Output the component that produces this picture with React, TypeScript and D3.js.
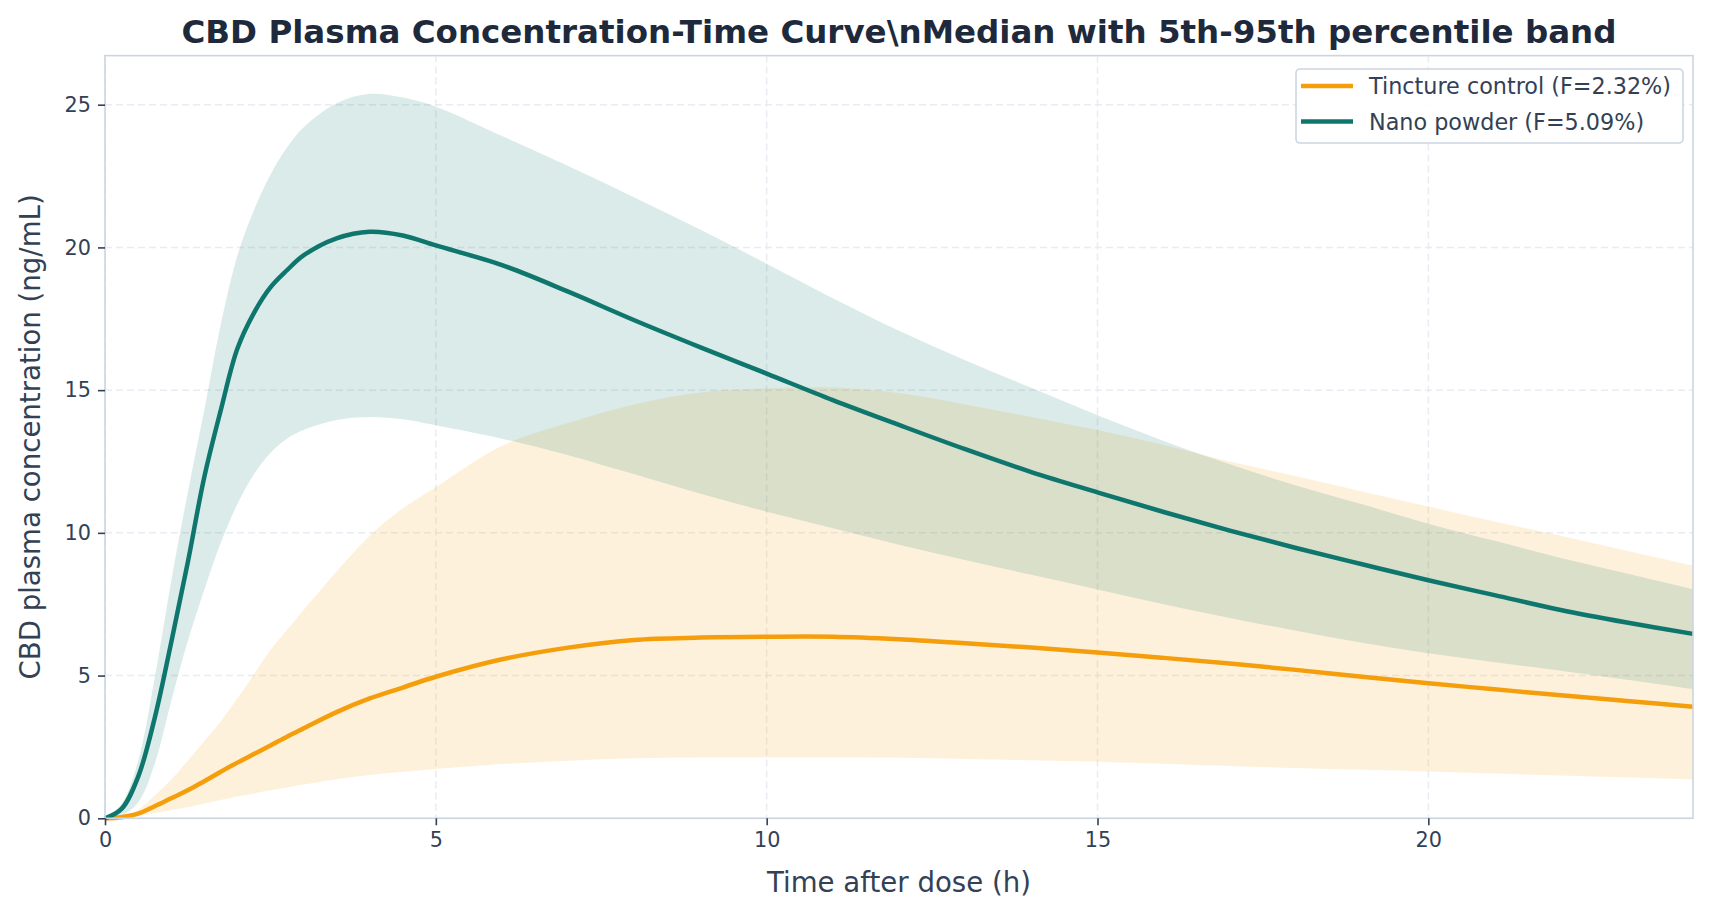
import React, { useEffect, useRef } from "react";
import * as d3 from "d3";

const times = [0, 0.25, 0.5, 0.75, 1, 1.25, 1.5, 1.75, 2, 2.25, 2.5, 2.75, 3, 3.5, 4, 4.5, 5, 6, 7, 8, 9, 10, 11, 12, 13, 14, 15, 16, 17, 18, 19, 20, 21, 22, 23, 24];

const tinctureMedian = [0, 0.04, 0.16, 0.42, 0.7, 0.98, 1.3, 1.63, 1.95, 2.25, 2.55, 2.86, 3.15, 3.72, 4.2, 4.58, 4.96, 5.57, 5.98, 6.25, 6.33, 6.36, 6.36, 6.27, 6.13, 5.98, 5.81, 5.62, 5.42, 5.2, 4.96, 4.73, 4.52, 4.31, 4.11, 3.91];
const tinctureLow = [0, 0.02, 0.09, 0.18, 0.28, 0.39, 0.52, 0.64, 0.76, 0.87, 0.98, 1.08, 1.18, 1.37, 1.52, 1.63, 1.73, 1.9, 2.02, 2.1, 2.13, 2.14, 2.14, 2.12, 2.08, 2.03, 1.98, 1.91, 1.83, 1.76, 1.7, 1.64, 1.57, 1.5, 1.43, 1.36];
const tinctureHigh = [0, 0.06, 0.3, 0.8, 1.35, 2.02, 2.7, 3.4, 4.2, 5.05, 5.9, 6.6, 7.3, 8.65, 9.9, 10.85, 11.6, 13.05, 13.85, 14.5, 14.92, 15.06, 15.09, 14.9, 14.5, 14.06, 13.6, 13.08, 12.5, 11.98, 11.45, 10.92, 10.4, 9.9, 9.37, 8.85];

const nanoMedian = [0, 0.33, 1.45, 3.5, 6.15, 8.95, 11.95, 14.3, 16.45, 17.7, 18.6, 19.2, 19.72, 20.32, 20.55, 20.42, 20.07, 19.38, 18.45, 17.45, 16.5, 15.58, 14.65, 13.78, 12.93, 12.13, 11.42, 10.73, 10.08, 9.47, 8.9, 8.34, 7.82, 7.3, 6.86, 6.46];
const nanoLow = [0, 0.1, 0.55, 1.9, 4.1, 6.2, 8.0, 9.65, 11.0, 12.05, 12.8, 13.3, 13.6, 13.95, 14.06, 13.98, 13.77, 13.3, 12.72, 12.05, 11.37, 10.74, 10.16, 9.58, 9.05, 8.53, 8.02, 7.5, 7.02, 6.57, 6.15, 5.78, 5.47, 5.17, 4.85, 4.52];
const nanoHigh = [0, 0.5, 2.0, 4.9, 8.3, 11.4, 14.3, 17.3, 19.7, 21.3, 22.55, 23.5, 24.2, 25.05, 25.38, 25.25, 24.93, 23.9, 22.85, 21.75, 20.62, 19.43, 18.22, 17.08, 16.05, 15.08, 14.12, 13.22, 12.4, 11.66, 11.0, 10.32, 9.72, 9.12, 8.58, 8.03];

const seriesNames = ["Tincture control (F=2.32%)", "Nano powder (F=5.09%)"];
const seriesColors = ["#f59e0b", "#0f766e"];
const xTicks = [0, 5, 10, 15, 20];
const yTicks = [0, 5, 10, 15, 20, 25];

const App = () => {
  const svgRef = useRef(null);

  useEffect(() => {
    const svg = d3.select(svgRef.current);
    svg.selectAll("*").remove();

    const width = 1710;
    const height = 916;
    const margin = { top: 55.6, right: 17, bottom: 97.7, left: 105 };
    const font = "DejaVu Sans, sans-serif";

    const x = d3.scaleLinear().domain([0, 24]).range([margin.left, width - margin.right]);
    const y = d3.scaleLinear().domain([0, 26.72]).range([height - margin.bottom, margin.top]);

    const groups = [
      { median: tinctureMedian, low: tinctureLow, high: tinctureHigh },
      { median: nanoMedian, low: nanoLow, high: nanoHigh },
    ];

    svg.attr("width", width).attr("height", height);

    // grid
    const grid = svg.append("g");
    grid.selectAll("line.gx").data(xTicks).enter().append("line")
      .attr("x1", d => x(d)).attr("x2", d => x(d))
      .attr("y1", margin.top).attr("y2", height - margin.bottom)
      .attr("stroke", "#e2e8f0").attr("stroke-width", 1.5).attr("stroke-dasharray", "7,4").attr("opacity", 0.75);
    grid.selectAll("line.gy").data(yTicks).enter().append("line")
      .attr("x1", margin.left).attr("x2", width - margin.right)
      .attr("y1", d => y(d)).attr("y2", d => y(d))
      .attr("stroke", "#e2e8f0").attr("stroke-width", 1.5).attr("stroke-dasharray", "7,4").attr("opacity", 0.75);

    const area = d3.area()
      .x((d) => x(d[0]))
      .y0((d) => y(Math.max(0, d[1])))
      .y1((d) => y(d[2]))
      .curve(d3.curveCatmullRom.alpha(0.5));

    const line = d3.line()
      .x((d) => x(d[0]))
      .y((d) => y(d[1]))
      .curve(d3.curveCatmullRom.alpha(0.5));

    // bands
    groups.forEach((g, i) => {
      svg.append("path")
        .datum(times.map((t, j) => [t, g.low[j], g.high[j]]))
        .attr("d", area)
        .attr("fill", seriesColors[i])
        .attr("fill-opacity", 0.15);
    });

    // median lines
    groups.forEach((g, i) => {
      svg.append("path")
        .datum(times.map((t, j) => [t, g.median[j]]))
        .attr("d", line)
        .attr("fill", "none")
        .attr("stroke", seriesColors[i])
        .attr("stroke-width", 4.5)
        .attr("stroke-linejoin", "round");
    });

    // frame
    svg.append("rect")
      .attr("x", margin.left).attr("y", margin.top)
      .attr("width", width - margin.left - margin.right)
      .attr("height", height - margin.top - margin.bottom)
      .attr("fill", "none").attr("stroke", "#cbd5e1").attr("stroke-width", 1.6);

    // axes
    const xAxis = svg.append("g")
      .attr("transform", `translate(0,${height - margin.bottom})`)
      .call(d3.axisBottom(x).tickValues(xTicks).tickSize(7).tickPadding(7).tickFormat(d3.format("d")));
    const yAxis = svg.append("g")
      .attr("transform", `translate(${margin.left},0)`)
      .call(d3.axisLeft(y).tickValues(yTicks).tickSize(7).tickPadding(7).tickFormat(d3.format("d")));
    [xAxis, yAxis].forEach(ax => {
      ax.select(".domain").remove();
      ax.selectAll("line").attr("stroke", "#334155").attr("stroke-width", 1.6);
      ax.selectAll("text").attr("fill", "#334155").style("font-size", "20.8px").style("font-family", font);
    });

    // axis labels
    svg.append("text")
      .attr("x", (margin.left + width - margin.right) / 2)
      .attr("y", 892)
      .attr("text-anchor", "middle")
      .style("font-size", "27.6px").style("font-family", font)
      .attr("fill", "#334155")
      .text("Time after dose (h)");

    svg.append("text")
      .attr("transform", `translate(40,${(margin.top + height - margin.bottom) / 2}) rotate(-90)`)
      .attr("text-anchor", "middle")
      .style("font-size", "27.6px").style("font-family", font)
      .attr("fill", "#334155")
      .text("CBD plasma concentration (ng/mL)");

    // title
    svg.append("text")
      .attr("x", (margin.left + width - margin.right) / 2)
      .attr("y", 43)
      .attr("text-anchor", "middle")
      .style("font-size", "32.5px").style("font-weight", "bold").style("font-family", font)
      .attr("fill", "#1e293b")
      .text("CBD Plasma Concentration-Time Curve\\nMedian with 5th-95th percentile band");

    // legend
    const legend = svg.append("g");
    legend.append("rect")
      .attr("x", 1296).attr("y", 69).attr("width", 387).attr("height", 74)
      .attr("rx", 4).attr("fill", "white").attr("fill-opacity", 0.9)
      .attr("stroke", "#cbd5e1").attr("stroke-width", 1.6);
    seriesNames.forEach((name, i) => {
      const ly = 86 + i * 35.5;
      legend.append("line")
        .attr("x1", 1301).attr("x2", 1353).attr("y1", ly).attr("y2", ly)
        .attr("stroke", seriesColors[i]).attr("stroke-width", 4.5);
      legend.append("text")
        .attr("x", 1369).attr("y", ly)
        .attr("dominant-baseline", "central")
        .style("font-size", "22.3px").style("font-family", font)
        .attr("fill", "#334155")
        .text(name);
    });
  }, []);

  return <svg ref={svgRef} style={{ position: "absolute", left: 0, top: 0, display: "block" }} />;
};

export default App;
